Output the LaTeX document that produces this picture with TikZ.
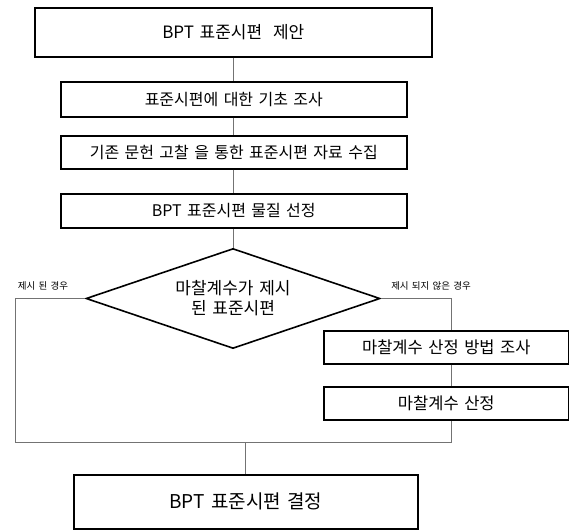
\documentclass[tikz,border=0pt]{standalone}
\usepackage{fontspec}
\setmainfont[WordSpace=1.5]{Noto Sans CJK KR}
\usetikzlibrary{shapes.geometric}
\begin{document}
\begin{tikzpicture}[x=1pt,y=-1pt,
  box/.style={draw=black,line width=1.6pt,fill=white,inner sep=0pt,anchor=north west},
  conn/.style={draw=black!55,line width=0.9pt},
  lbl/.style={font=\fontsize{9.5}{11}\selectfont,inner sep=0pt}]
\useasboundingbox (0,0) rectangle (569,530);
% boxes (north west corner, size)
\node[box,minimum width=397pt,minimum height=49pt,font=\fontsize{17}{19}\selectfont] (b1) at (34,7) {BPT 표준시편\hspace{0.3em} 제안};
\node[box,minimum width=346pt,minimum height=35pt,font=\fontsize{16}{18}\selectfont] (b2) at (60,81) {표준시편에 대한 기초 조사};
\node[box,minimum width=346pt,minimum height=33pt,font=\fontsize{16}{18}\selectfont] (b3) at (60,135) {기존 문헌 고찰 을 통한 표준시편 자료 수집};
\node[box,minimum width=346pt,minimum height=34pt,font=\fontsize{16}{18}\selectfont] (b4) at (60,193) {BPT 표준시편 물질 선정};
\node[draw=black,line width=1.6pt,fill=white,diamond,minimum width=294pt,minimum height=100pt,inner sep=0pt,aspect=2.94,
  align=center,font=\fontsize{17}{20}\selectfont] (d) at (233,298.5) {마찰계수가 제시\\된 표준시편};
\node[box,minimum width=245pt,minimum height=33pt,font=\fontsize{16.5}{18}\selectfont] (b5) at (323,330) {마찰계수 산정 방법 조사};
\node[box,minimum width=245pt,minimum height=33pt,font=\fontsize{16.5}{18}\selectfont] (b6) at (323,386) {마찰계수 산정};
\node[box,minimum width=344pt,minimum height=54pt,font=\fontsize{19}{21}\selectfont] (b7) at (73,474) {BPT 표준시편 결정};
% labels
\node[lbl] (l1) at (43,286) {제시 된 경우};
\node[lbl] (l2) at (431,286) {제시 되지 않은 경우};
% coordinates for bends
\coordinate (cl) at (15,298.5);
\coordinate (cr) at (451,298.5);
\coordinate (bl) at (15,442);
\coordinate (br) at (451,442);
\coordinate (bm) at (245,442);
% connectors
\draw[conn] (b1.south -| d.north) -- (b2.north -| d.north);
\draw[conn] (b2.south -| d.north) -- (b3.north -| d.north);
\draw[conn] (b3.south -| d.north) -- (b4.north -| d.north);
\draw[conn] (b4.south -| d.north) -- (d.north);
\draw[conn] (d.west) -- (cl) -- (bl) -- (br) -- (b6.south -| br);
\draw[conn] (d.east) -- (cr) -- (b5.north -| cr);
\draw[conn] (b5.south -| cr) -- (b6.north -| cr);
\draw[conn] (bm) -- (b7.north -| bm);
\end{tikzpicture}
\end{document}
